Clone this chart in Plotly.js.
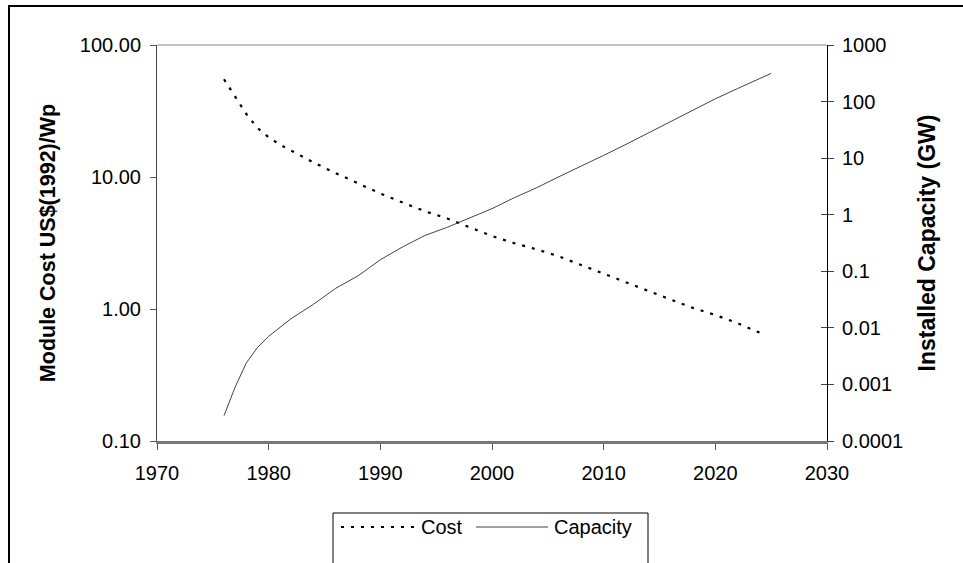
<!DOCTYPE html>
<html>
<head>
<meta charset="utf-8">
<script src="https://cdn.plot.ly/plotly-3.0.1.min.js"></script>
<style>
  html, body { margin: 0; padding: 0; background: #fff; }
  #wrap { position: relative; width: 963px; height: 563px; overflow: hidden; }
  #chart { position: absolute; left: 0; top: 0; width: 963px; height: 563px; }
  #frame { position: absolute; left: 8px; top: 5px; right: -10px; bottom: -10px;
           border-left: 2px solid #000; border-top: 2px solid #000; pointer-events: none; }
</style>
</head>
<body>
<div id="wrap">
  <div id="chart"></div>
  <div id="frame"></div>
</div>
<script>
// Module cost, US$(1992)/Wp
const costYears = [1976, 1977, 1978, 1979, 1980, 1981, 1982, 1984, 1986, 1988, 1990, 1992, 1994, 1996, 1998,
                   2000, 2002, 2004, 2006, 2008, 2010, 2012, 2014, 2016, 2018, 2020, 2022, 2024];
const costValues = [55, 41, 30, 23.5, 20, 17.6, 15.8, 12.9, 10.7, 9.0, 7.5, 6.4, 5.5, 4.85, 4.15,
                    3.57, 3.15, 2.83, 2.5, 2.15, 1.85, 1.58, 1.36, 1.18, 1.02, 0.9, 0.78, 0.66];

// Installed capacity, GW
const capYears = [1976, 1977, 1978, 1979, 1980, 1982, 1984, 1986, 1988, 1990, 1992, 1994, 1996, 1998,
                  2000, 2002, 2004, 2006, 2008, 2010, 2012, 2014, 2016, 2018, 2020, 2022, 2025];
const capValues = [0.00028, 0.0009, 0.0024, 0.0045, 0.0071, 0.0145, 0.026, 0.05, 0.083, 0.16, 0.27, 0.43, 0.6, 0.88,
                   1.28, 2.0, 3.0, 4.7, 7.2, 11.2, 17.5, 28, 44, 70, 112, 170, 315];

const seriesNames = ['Cost', 'Capacity'];
const leftTickVals = [0.1, 1, 10, 100];
const leftTickText = ['0.10', '1.00', '10.00', '100.00'];
const rightTickVals = [0.0001, 0.001, 0.01, 0.1, 1, 10, 100, 1000];
const rightTickText = ['0.0001', '0.001', '0.01', '0.1', '1', '10', '100', '1000'];
const xTickVals = [1970, 1980, 1990, 2000, 2010, 2020, 2030];

const FONT = '"Liberation Sans", Arial, sans-serif';
const COST_LINE = { color: '#000', width: 2.2, dash: '3px,7px' };
const CAP_LINE = { color: '#444', width: 1 };

const traces = [
  { x: costYears, y: costValues, name: seriesNames[0], type: 'scatter', mode: 'lines',
    line: COST_LINE, yaxis: 'y' },
  { x: capYears, y: capValues, name: seriesNames[1], type: 'scatter', mode: 'lines',
    line: CAP_LINE, yaxis: 'y2' },
  // empty trace that only activates the inner tick marks of the right axis
  { x: [], y: [], yaxis: 'y3', showlegend: false, hoverinfo: 'skip', type: 'scatter', mode: 'lines' }
];

// Legend (box, line samples and labels) placed below the plot area, in paper units
const PW = 670, PH = 396;           // plot area size in px
const px = v => (v - 157) / PW;      // page x -> paper x
const py = v => (441 - v) / PH;      // page y -> paper y
const legY = py(527);

const layout = {
  width: 963, height: 563,
  margin: { l: 157, r: 136, t: 45, b: 122, pad: 0 },
  paper_bgcolor: '#fff', plot_bgcolor: '#fff',
  font: { family: FONT, size: 20, color: '#000' },
  showlegend: false,
  xaxis: {
    range: [1970, 2030], tickvals: xTickVals, ticks: 'outside', ticklen: 6, tickwidth: 1,
    tickcolor: '#555', showgrid: false, zeroline: false, showline: true,
    linecolor: '#777', linewidth: 2.5, tickfont: { size: 20 }, ticklabelstandoff: 6
  },
  yaxis: {
    type: 'log', range: [-1, 2], tickvals: leftTickVals, ticktext: leftTickText,
    ticks: 'outside', ticklen: 6, tickcolor: '#555', showgrid: false, zeroline: false,
    showline: true, linecolor: '#444', linewidth: 1, tickfont: { size: 20 }, ticklabelstandoff: 5,
    title: { text: 'Module Cost US$(1992)/Wp', font: { size: 21.5, family: FONT, weight: 'bold' }, standoff: 18 }
  },
  yaxis2: {
    type: 'log', range: [-4, 3], tickvals: rightTickVals, ticktext: rightTickText,
    overlaying: 'y', side: 'right', ticks: 'outside', ticklen: 6, tickcolor: '#444',
    showgrid: false, zeroline: false, showline: true, linecolor: '#000', linewidth: 1,
    tickfont: { size: 20 }, ticklabelstandoff: 4,
    title: { text: 'Installed Capacity (GW)', font: { size: 23, family: FONT, weight: 'bold' }, standoff: 16 }
  },
  yaxis3: {
    type: 'log', range: [-4, 3], tickvals: rightTickVals, overlaying: 'y', side: 'right',
    ticks: 'inside', ticklen: 6, tickcolor: '#444', showticklabels: false,
    showgrid: false, zeroline: false, showline: false
  },
  shapes: [
    { type: 'line', xref: 'paper', yref: 'paper', x0: 0, x1: 1, y0: 1, y1: 1,
      line: { color: '#888', width: 1 } },
    // legend box
    { type: 'rect', xref: 'paper', yref: 'paper', x0: px(333), x1: px(648), y0: py(513), y1: py(590),
      line: { color: '#000', width: 1 }, fillcolor: '#fff', layer: 'above' },
    // legend samples
    { type: 'line', xref: 'paper', yref: 'paper', x0: px(341), x1: px(416), y0: legY, y1: legY,
      line: COST_LINE },
    { type: 'line', xref: 'paper', yref: 'paper', x0: px(476), x1: px(548), y0: legY, y1: legY,
      line: CAP_LINE }
  ],
  annotations: [
    { xref: 'paper', yref: 'paper', x: px(419), y: legY, xanchor: 'left', yanchor: 'middle',
      text: seriesNames[0], showarrow: false, font: { size: 20, family: FONT } },
    { xref: 'paper', yref: 'paper', x: px(552), y: legY, xanchor: 'left', yanchor: 'middle',
      text: seriesNames[1], showarrow: false, font: { size: 20, family: FONT } }
  ]
};

Plotly.newPlot('chart', traces, layout, { staticPlot: true, displayModeBar: false });
</script>
</body>
</html>
